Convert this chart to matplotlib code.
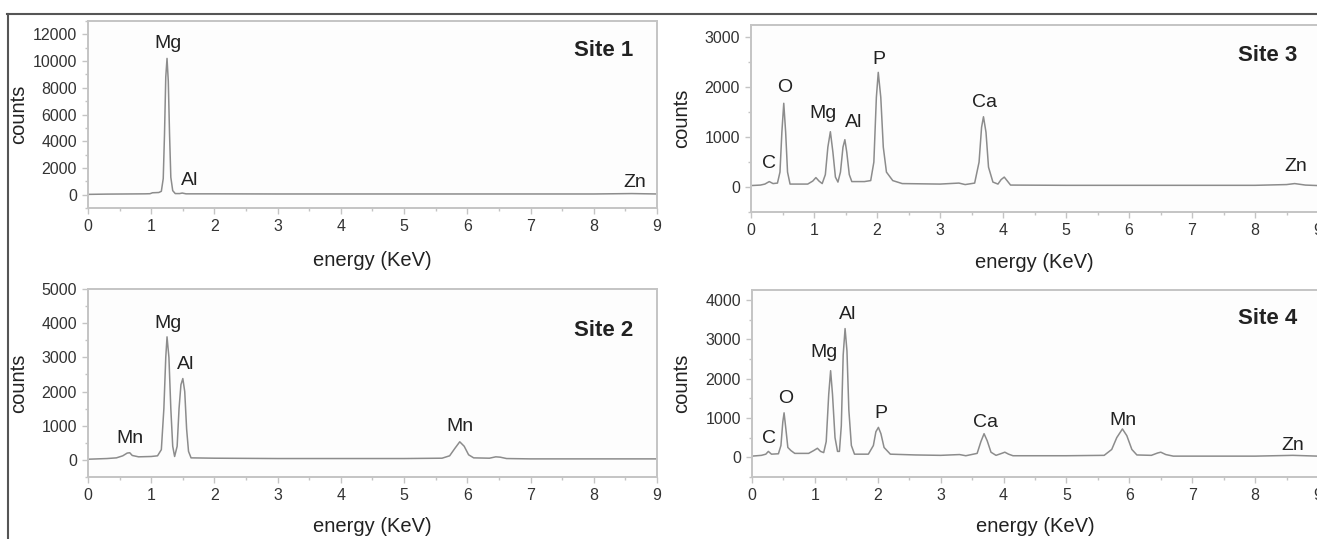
import matplotlib
matplotlib.use("Agg")
import matplotlib.pyplot as plt
from matplotlib.ticker import MultipleLocator
from matplotlib.lines import Line2D

plt.rcParams['font.family'] = ['Liberation Sans', 'DejaVu Sans']

# ---------------- data ----------------
site1_energy = [0.0, 0.3, 0.6, 0.9, 0.98, 1.02, 1.12, 1.16, 1.19, 1.21, 1.23, 1.25, 1.27, 1.29,
                1.31, 1.34, 1.38, 1.45, 1.49, 1.55, 2.0, 3.0, 4.0, 5.0, 6.0, 7.0, 8.0, 8.6, 9.0]
site1_counts = [20, 40, 50, 60, 70, 140, 160, 250, 1200, 4500, 8800, 10200, 8500, 4500,
                1300, 300, 80, 80, 120, 60, 60, 50, 50, 50, 50, 50, 50, 80, 50]

site2_energy = [0.0, 0.3, 0.45, 0.55, 0.62, 0.66, 0.7, 0.8, 1.0, 1.1, 1.16, 1.2, 1.23, 1.25,
                1.28, 1.31, 1.34, 1.37, 1.41, 1.44, 1.47, 1.5, 1.53, 1.56, 1.59, 1.63, 2.0,
                3.0, 4.0, 5.0, 5.6, 5.72, 5.8, 5.88, 5.95, 6.02, 6.1, 6.35, 6.45, 6.52, 6.62,
                7.0, 8.0, 9.0]
site2_counts = [20, 40, 60, 120, 200, 210, 130, 90, 100, 120, 300, 1500, 3000, 3600,
                3000, 1500, 400, 100, 400, 1500, 2200, 2380, 2000, 900, 250, 60, 50,
                40, 40, 40, 50, 120, 330, 530, 400, 150, 60, 50, 90, 80, 40,
                30, 30, 30]

site3_energy = [0.0, 0.15, 0.22, 0.29, 0.35, 0.42, 0.46, 0.49, 0.52, 0.55, 0.58, 0.62, 0.9,
                0.98, 1.03, 1.08, 1.13, 1.18, 1.22, 1.26, 1.3, 1.34, 1.38, 1.42, 1.46, 1.49,
                1.52, 1.56, 1.6, 1.8, 1.9, 1.95, 1.99, 2.02, 2.06, 2.1, 2.15, 2.25, 2.4, 3.0,
                3.3, 3.4, 3.55, 3.62, 3.66, 3.69, 3.73, 3.77, 3.84, 3.92, 3.97, 4.02, 4.07,
                4.12, 5.0, 6.0, 7.0, 8.0, 8.5, 8.63, 8.8, 9.0]
site3_counts = [30, 40, 60, 110, 70, 80, 300, 1100, 1680, 1100, 300, 60, 60,
                120, 190, 120, 70, 250, 800, 1110, 700, 200, 100, 300, 800, 950,
                700, 250, 110, 110, 130, 500, 1800, 2300, 1800, 800, 300, 130, 70, 60,
                80, 50, 80, 500, 1200, 1410, 1100, 400, 100, 60, 150, 200, 120,
                40, 35, 35, 35, 35, 50, 70, 40, 30]

site4_energy = [0.0, 0.15, 0.22, 0.26, 0.31, 0.42, 0.46, 0.49, 0.51, 0.54, 0.57, 0.62, 0.68,
                0.9, 0.98, 1.04, 1.09, 1.14, 1.18, 1.22, 1.25, 1.28, 1.32, 1.36, 1.39, 1.42,
                1.45, 1.48, 1.51, 1.54, 1.58, 1.63, 1.85, 1.93, 1.97, 2.01, 2.05, 2.1, 2.2,
                2.6, 3.0, 3.3, 3.4, 3.58, 3.64, 3.69, 3.74, 3.8, 3.88, 3.97, 4.02, 4.08,
                4.15, 5.0, 5.6, 5.72, 5.8, 5.89, 5.96, 6.04, 6.12, 6.35, 6.45, 6.5, 6.58,
                6.7, 7.0, 8.0, 8.6, 9.0]
site4_counts = [30, 50, 80, 150, 80, 90, 300, 900, 1130, 700, 250, 170, 100,
                100, 170, 230, 150, 120, 400, 1600, 2200, 1600, 500, 150, 150, 800,
                2600, 3270, 2700, 1200, 300, 80, 80, 300, 650, 760, 600, 250, 80,
                60, 50, 70, 40, 100, 400, 600, 420, 130, 50, 100, 130, 80,
                40, 40, 50, 200, 500, 720, 550, 200, 60, 50, 110, 130, 70,
                30, 30, 30, 50, 30]

# peak labels: text, energy, counts
site1_labels = ["Mg", "Al", "Zn"]
site1_lab_x = [1.27, 1.6, 8.65]
site1_lab_y = [11300, 1050, 900]

site2_labels = ["Mn", "Mg", "Al", "Mn"]
site2_lab_x = [0.66, 1.26, 1.54, 5.88]
site2_lab_y = [640, 4000, 2800, 980]

site3_labels = ["C", "O", "Mg", "Al", "P", "Ca", "Zn"]
site3_lab_x = [0.29, 0.54, 1.14, 1.63, 2.03, 3.71, 8.65]
site3_lab_y = [480, 1990, 1470, 1290, 2550, 1690, 420]

site4_labels = ["C", "O", "Mg", "Al", "P", "Ca", "Mn", "Zn"]
site4_lab_x = [0.27, 0.53, 1.14, 1.52, 2.05, 3.71, 5.9, 8.6]
site4_lab_y = [480, 1490, 2660, 3620, 1110, 880, 940, 300]

site_titles = ["Site 1", "Site 2", "Site 3", "Site 4"]

# ---------------- figure ----------------
W, H = 1317, 539
fig = plt.figure(figsize=(W / 100, H / 100), dpi=100)
fig.patch.set_facecolor("white")

def make_ax(left, right, top, bottom):
    return fig.add_axes([left / W, 1 - bottom / H, (right - left) / W, (bottom - top) / H])

frame_col = "#c4c4c4"
line_col = "#8c8c8c"
text_col = "#222222"
tick_col = "#333333"

panels = [
    dict(box=(88, 657, 21, 208), e=site1_energy, c=site1_counts, ylim=(-1000, 13000),
         major=2000, minor=1000, labs=(site1_labels, site1_lab_x, site1_lab_y),
         title=site_titles[0], title_xy=(8.15, 10800), ylab_x=19, xlab_dy=52),
    dict(box=(88, 657, 289, 477), e=site2_energy, c=site2_counts, ylim=(-500, 5000),
         major=1000, minor=500, labs=(site2_labels, site2_lab_x, site2_lab_y),
         title=site_titles[1], title_xy=(8.15, 3800), ylab_x=19, xlab_dy=49),
    dict(box=(751, 1318, 25, 212), e=site3_energy, c=site3_counts, ylim=(-500, 3250),
         major=1000, minor=500, labs=(site3_labels, site3_lab_x, site3_lab_y),
         title=site_titles[2], title_xy=(8.2, 2640), ylab_x=682, xlab_dy=51),
    dict(box=(752, 1318, 290, 477), e=site4_energy, c=site4_counts, ylim=(-500, 4250),
         major=1000, minor=500, labs=(site4_labels, site4_lab_x, site4_lab_y),
         title=site_titles[3], title_xy=(8.2, 3520), ylab_x=682, xlab_dy=49),
]

for p in panels:
    ax = make_ax(*p["box"])
    ax.set_facecolor("#fdfdfd")
    ax.plot(p["e"], p["c"], color=line_col, lw=1.1)
    ax.set_xlim(0, 9)
    ax.set_ylim(*p["ylim"])
    ax.xaxis.set_major_locator(MultipleLocator(1))
    ax.xaxis.set_minor_locator(MultipleLocator(0.5))
    ax.yaxis.set_major_locator(MultipleLocator(p["major"]))
    ax.yaxis.set_minor_locator(MultipleLocator(p["minor"]))
    for s in ax.spines.values():
        s.set_color(frame_col)
        s.set_linewidth(1.4)
    ax.tick_params(which="major", direction="out", length=4, width=1, color=frame_col,
                   labelsize=11.5, labelcolor=tick_col, pad=4)
    ax.tick_params(which="minor", direction="out", length=2, width=1, color=frame_col)
    hpx = p["box"][3] - p["box"][2]
    wpx = p["box"][1] - p["box"][0]
    xl = ax.set_xlabel("energy (KeV)", fontsize=14.5, color=text_col)
    yl = ax.set_ylabel("counts", fontsize=14.5, color=text_col)
    ax.xaxis.set_label_coords(0.5, -p["xlab_dy"] / hpx)
    ax.yaxis.set_label_coords(-(p["box"][0] - p["ylab_x"]) / wpx, 0.5)
    xl.set_verticalalignment("center")
    yl.set_verticalalignment("center")
    names, xs, ys = p["labs"]
    for t, x, y in zip(names, xs, ys):
        ax.text(x, y, t, ha="center", va="center", fontsize=14, color=text_col)
    ax.text(p["title_xy"][0], p["title_xy"][1], p["title"], ha="center", va="center",
            fontsize=16, fontweight="bold", color=text_col)

# outer frame lines (top and left)
fig.add_artist(Line2D([7 / W, 1], [1 - 14 / H, 1 - 14 / H], transform=fig.transFigure,
                      color="#555555", lw=1.5))
fig.add_artist(Line2D([8 / W, 8 / W], [0, 1 - 14 / H], transform=fig.transFigure,
                      color="#555555", lw=1.5))

fig.savefig("out.png", dpi=100, facecolor="white")
